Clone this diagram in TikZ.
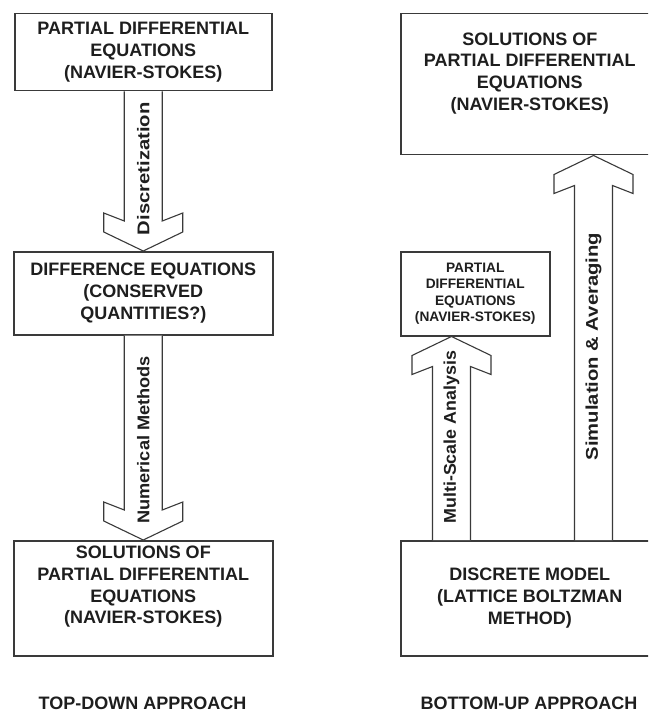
\documentclass[tikz,border=0pt]{standalone}
\usepackage{fontspec}
\setmainfont{Liberation Sans}
\usepackage{graphicx}
\usetikzlibrary{calc}
\definecolor{inkc}{HTML}{1E1E1E}
\definecolor{linec}{HTML}{3A3A3A}
\tikzset{
  boxnode/.style={draw=linec, line width=1.5pt, fill=white, inner sep=0pt, anchor=north west, text=inkc},
  bigtxt/.style={font=\bfseries\fontsize{18}{21.7}\selectfont, align=center, text=inkc},
  smalltxt/.style={font=\bfseries\fontsize{13.7}{16.6}\selectfont, align=center, text=inkc},
  arrowline/.style={draw=linec, line width=1.1pt, fill=white, line join=miter},
  arrowlabel/.style={font=\bfseries\fontsize{17}{20}\selectfont, rotate=90, text=inkc, inner sep=0pt},
  titletxt/.style={font=\bfseries\fontsize{18}{21.7}\selectfont, text=inkc, inner sep=0pt}
}
% #1 base of shaft, #2 tip, #3 direction (1 = tip above base, -1 = tip below)
\newcommand{\fatarrow}[3]{%
  \path[arrowline] let \p1=(#1), \p2=(#2) in
    (\x1-19pt,\y1) -- (\x1-19pt,{\y2-(#3)*30pt}) -- (\x1-39.5pt,{\y2-(#3)*38pt})
    -- (\x1-39.5pt,{\y2-(#3)*19pt}) -- (\x1,\y2) -- (\x1+39.5pt,{\y2-(#3)*19pt})
    -- (\x1+39.5pt,{\y2-(#3)*38pt}) -- (\x1+19pt,{\y2-(#3)*30pt}) -- (\x1+19pt,\y1);
}
\begin{document}
\begin{tikzpicture}[x=1pt,y=-1pt]
\useasboundingbox (0,0) rectangle (648,714);
\clip (0,0) rectangle (648,714);
\fill[white] (0,0) rectangle (648,714);

% boxes
\node[boxnode, minimum width=257pt, minimum height=77pt, bigtxt] (tl) at (14,13)
  {PARTIAL DIFFERENTIAL\\EQUATIONS\\(NAVIER-STOKES)};
\node[boxnode, minimum width=259pt, minimum height=83pt, bigtxt] (ml) at (13,251)
  {DIFFERENCE EQUATIONS\\(CONSERVED\\QUANTITIES?)};
\node[boxnode, minimum width=259pt, minimum height=115pt] (bl) at (13,540) {};
\node[bigtxt, anchor=north, inner sep=0pt] (bltext) at ($(bl.north)+(0,6)$)
  {SOLUTIONS OF\\PARTIAL DIFFERENTIAL\\EQUATIONS\\(NAVIER-STOKES)};

\node[boxnode, minimum width=258pt, minimum height=141pt] (tr) at (400,13) {};
\node[bigtxt, anchor=north, inner sep=0pt] (trtext) at ($(tr.north)+(0,19.5)$)
  {SOLUTIONS OF\\PARTIAL DIFFERENTIAL\\EQUATIONS\\(NAVIER-STOKES)};
\node[boxnode, minimum width=149pt, minimum height=84pt, smalltxt] (mr) at (400,251)
  {PARTIAL\\DIFFERENTIAL\\EQUATIONS\\(NAVIER-STOKES)};
\node[boxnode, minimum width=258pt, minimum height=115pt, bigtxt] (br) at (400,540)
  {DISCRETE MODEL\\(LATTICE BOLTZMAN\\METHOD)};

% fat arrows
\fatarrow{tl.south}{ml.north}{-1}
\fatarrow{ml.south}{bl.north}{-1}
\fatarrow{$(br.north west)+(51.5,0)$}{$(mr.south west)+(51.5,0)$}{1}
\fatarrow{$(br.north west)+(193.5,0)$}{$(tr.south west)+(193.5,0)$}{1}

% arrow labels
\node[arrowlabel] (l1) at ($(tl.south)!0.484!(ml.north)$) {\scalebox{1.19}[1]{Discretization}};
\node[arrowlabel] (l2) at ($(ml.south)!0.51!(bl.north)$) {\scalebox{1.07}[1]{Numerical Methods}};
\node[arrowlabel] (l3) at ($($(br.north west)+(51.5,0)$)!0.505!($(mr.south west)+(51.5,0)$)$) {\scalebox{1.05}[1]{Multi-Scale Analysis}};
\node[arrowlabel] (l4) at ($($(br.north west)+(193.5,0)$)!0.503!($(tr.south west)+(193.5,0)$)$) {\scalebox{1.19}[1]{Simulation \& Averaging}};

% titles
\node[titletxt] (t1) at (142.5,703.5) {TOP-DOWN APPROACH};
\node[titletxt] (t2) at (529,703.5) {BOTTOM-UP APPROACH};
\end{tikzpicture}
\end{document}
